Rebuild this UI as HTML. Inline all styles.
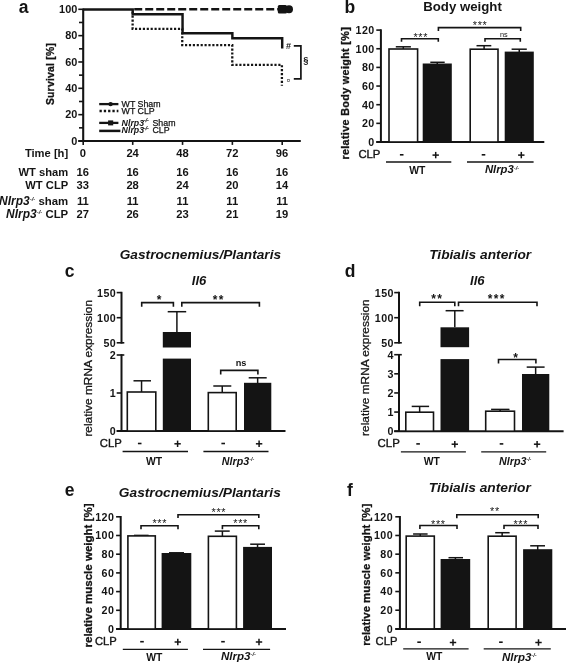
<!DOCTYPE html>
<html lang="en">
<head>
<meta charset="utf-8">
<title>Figure</title>
<style>
html,body{margin:0;padding:0;background:#fff;}
body{width:566px;height:663px;overflow:hidden;font-family:"Liberation Sans",sans-serif;}
svg{display:block;will-change:transform;}
svg text{font-family:"Liberation Sans",sans-serif;fill:#141414;}
</style>
</head>
<body>
<svg width="566" height="663" viewBox="0 0 566 663">
<rect x="0" y="0" width="566" height="663" fill="#ffffff"/>
<text x="23.50" y="12.90" font-size="17.5" font-weight="bold" font-style="normal" text-anchor="middle" >a</text>
<line x1="83.20" y1="8.70" x2="83.20" y2="142.00" stroke="#141414" stroke-width="2.1" />
<line x1="78.30" y1="141.00" x2="300.80" y2="141.00" stroke="#141414" stroke-width="2.1" />
<line x1="78.30" y1="141.00" x2="83.20" y2="141.00" stroke="#141414" stroke-width="1.6" />
<line x1="79.00" y1="127.83" x2="83.20" y2="127.83" stroke="#141414" stroke-width="1.6" />
<line x1="78.30" y1="114.66" x2="83.20" y2="114.66" stroke="#141414" stroke-width="1.6" />
<line x1="79.00" y1="101.49" x2="83.20" y2="101.49" stroke="#141414" stroke-width="1.6" />
<line x1="78.30" y1="88.32" x2="83.20" y2="88.32" stroke="#141414" stroke-width="1.6" />
<line x1="79.00" y1="75.15" x2="83.20" y2="75.15" stroke="#141414" stroke-width="1.6" />
<line x1="78.30" y1="61.98" x2="83.20" y2="61.98" stroke="#141414" stroke-width="1.6" />
<line x1="79.00" y1="48.81" x2="83.20" y2="48.81" stroke="#141414" stroke-width="1.6" />
<line x1="78.30" y1="35.64" x2="83.20" y2="35.64" stroke="#141414" stroke-width="1.6" />
<line x1="79.00" y1="22.47" x2="83.20" y2="22.47" stroke="#141414" stroke-width="1.6" />
<line x1="78.30" y1="9.30" x2="83.20" y2="9.30" stroke="#141414" stroke-width="1.6" />
<text x="77.50" y="144.81" font-size="10.9" font-weight="bold" font-style="normal" text-anchor="end" letter-spacing="0.1">0</text>
<text x="77.50" y="118.47" font-size="10.9" font-weight="bold" font-style="normal" text-anchor="end" letter-spacing="0.1">20</text>
<text x="77.50" y="92.13" font-size="10.9" font-weight="bold" font-style="normal" text-anchor="end" letter-spacing="0.1">40</text>
<text x="77.50" y="65.80" font-size="10.9" font-weight="bold" font-style="normal" text-anchor="end" letter-spacing="0.1">60</text>
<text x="77.50" y="39.45" font-size="10.9" font-weight="bold" font-style="normal" text-anchor="end" letter-spacing="0.1">80</text>
<text x="77.50" y="13.12" font-size="10.9" font-weight="bold" font-style="normal" text-anchor="end" letter-spacing="0.1">100</text>
<line x1="83.20" y1="141.00" x2="83.20" y2="144.90" stroke="#141414" stroke-width="1.6" />
<line x1="132.72" y1="141.00" x2="132.72" y2="144.90" stroke="#141414" stroke-width="1.6" />
<line x1="182.55" y1="141.00" x2="182.55" y2="144.90" stroke="#141414" stroke-width="1.6" />
<line x1="232.37" y1="141.00" x2="232.37" y2="144.90" stroke="#141414" stroke-width="1.6" />
<line x1="282.20" y1="141.00" x2="282.20" y2="144.90" stroke="#141414" stroke-width="1.6" />
<text x="50.90" y="74.10" font-size="10.3" font-weight="bold" text-anchor="middle" transform="rotate(-90 50.90 74.10)" textLength="62.0" lengthAdjust="spacing" dy="2.68" stroke="#141414" stroke-width="0.3">Survival [%]</text>
<path d="M132.62 11.70 V28.8 H182.25 V45.1 H232.27 V64.9 H281.90 V85.8" fill="none" stroke="#141414" stroke-width="2.3" stroke-dasharray="2.15 1.75"/>
<line x1="134.22" y1="9.20" x2="279.00" y2="9.20" stroke="#141414" stroke-width="2.6" stroke-dasharray="8.0 3.0"/>
<rect x="277.8" y="5.1" width="9.2" height="8.3" rx="1.5" fill="#141414"/>
<circle cx="289.0" cy="9.3" r="4.0" fill="#141414"/>
<path d="M82.90 9.40 H132.72 V14.2 H182.55 V33.2 H232.37 V38.2 H282.20 V48.6" fill="none" stroke="#141414" stroke-width="2.45" />
<text x="288.50" y="49.30" font-size="9.0" font-weight="bold" font-style="normal" text-anchor="middle" >#</text>
<text x="288.50" y="82.20" font-size="6" font-weight="normal" font-style="normal" text-anchor="middle" >¤</text>
<path d="M293.8 45.8 H300.9 V78.8 H293.8" fill="none" stroke="#141414" stroke-width="1.7" />
<text x="305.80" y="63.20" font-size="9.3" font-weight="bold" font-style="normal" text-anchor="middle" >§</text>
<line x1="99.20" y1="104.10" x2="118.40" y2="104.10" stroke="#141414" stroke-width="2.3" />
<circle cx="110.6" cy="104.1" r="2.2" fill="#141414"/>
<line x1="99.50" y1="111.00" x2="118.40" y2="111.00" stroke="#141414" stroke-width="2.3" stroke-dasharray="2.3 2.0"/>
<line x1="99.20" y1="122.90" x2="118.40" y2="122.90" stroke="#141414" stroke-width="2.3" />
<rect x="108.1" y="120.4" width="5.1" height="5.0" fill="#141414"/>
<line x1="99.20" y1="130.90" x2="120.40" y2="130.90" stroke="#141414" stroke-width="2.5" />
<text x="121.60" y="107.00" font-size="8.8" font-weight="normal" font-style="normal" text-anchor="start" stroke="#141414" stroke-width="0.25">WT Sham</text>
<text x="121.60" y="114.40" font-size="8.8" font-weight="normal" font-style="normal" text-anchor="start" stroke="#141414" stroke-width="0.25">WT CLP</text>
<text x="121.6" y="125.6" font-size="8.8" text-anchor="start" stroke="#141414" stroke-width="0.25"><tspan font-style="italic" font-weight="bold" stroke="none">Nlrp3</tspan><tspan font-style="italic" font-size="4.8" dy="-3.2">-/-</tspan><tspan dy="3.2" dx="1.4"> Sham</tspan></text>
<text x="121.6" y="133.4" font-size="8.8" text-anchor="start" stroke="#141414" stroke-width="0.25"><tspan font-style="italic" font-weight="bold" stroke="none">Nlrp3</tspan><tspan font-style="italic" font-size="4.8" dy="-3.2">-/-</tspan><tspan dy="3.2" dx="1.4"> CLP</tspan></text>
<text x="68.20" y="157.00" font-size="11.2" font-weight="bold" font-style="normal" text-anchor="end" >Time [h]</text>
<text x="82.80" y="157.00" font-size="11.2" font-weight="bold" font-style="normal" text-anchor="middle" >0</text>
<text x="132.62" y="157.00" font-size="11.2" font-weight="bold" font-style="normal" text-anchor="middle" >24</text>
<text x="182.45" y="157.00" font-size="11.2" font-weight="bold" font-style="normal" text-anchor="middle" >48</text>
<text x="232.27" y="157.00" font-size="11.2" font-weight="bold" font-style="normal" text-anchor="middle" >72</text>
<text x="282.10" y="157.00" font-size="11.2" font-weight="bold" font-style="normal" text-anchor="middle" >96</text>
<text x="68.20" y="175.70" font-size="11.2" font-weight="bold" font-style="normal" text-anchor="end" >WT sham</text>
<text x="82.80" y="175.70" font-size="11.2" font-weight="bold" font-style="normal" text-anchor="middle" >16</text>
<text x="132.62" y="175.70" font-size="11.2" font-weight="bold" font-style="normal" text-anchor="middle" >16</text>
<text x="182.45" y="175.70" font-size="11.2" font-weight="bold" font-style="normal" text-anchor="middle" >16</text>
<text x="232.27" y="175.70" font-size="11.2" font-weight="bold" font-style="normal" text-anchor="middle" >16</text>
<text x="282.10" y="175.70" font-size="11.2" font-weight="bold" font-style="normal" text-anchor="middle" >16</text>
<text x="68.20" y="189.20" font-size="11.2" font-weight="bold" font-style="normal" text-anchor="end" >WT CLP</text>
<text x="82.80" y="189.20" font-size="11.2" font-weight="bold" font-style="normal" text-anchor="middle" >33</text>
<text x="132.62" y="189.20" font-size="11.2" font-weight="bold" font-style="normal" text-anchor="middle" >28</text>
<text x="182.45" y="189.20" font-size="11.2" font-weight="bold" font-style="normal" text-anchor="middle" >24</text>
<text x="232.27" y="189.20" font-size="11.2" font-weight="bold" font-style="normal" text-anchor="middle" >20</text>
<text x="282.10" y="189.20" font-size="11.2" font-weight="bold" font-style="normal" text-anchor="middle" >14</text>
<text x="82.80" y="205.10" font-size="11.2" font-weight="bold" font-style="normal" text-anchor="middle" >11</text>
<text x="132.62" y="205.10" font-size="11.2" font-weight="bold" font-style="normal" text-anchor="middle" >11</text>
<text x="182.45" y="205.10" font-size="11.2" font-weight="bold" font-style="normal" text-anchor="middle" >11</text>
<text x="232.27" y="205.10" font-size="11.2" font-weight="bold" font-style="normal" text-anchor="middle" >11</text>
<text x="282.10" y="205.10" font-size="11.2" font-weight="bold" font-style="normal" text-anchor="middle" >11</text>
<text x="82.80" y="217.80" font-size="11.2" font-weight="bold" font-style="normal" text-anchor="middle" >27</text>
<text x="132.62" y="217.80" font-size="11.2" font-weight="bold" font-style="normal" text-anchor="middle" >26</text>
<text x="182.45" y="217.80" font-size="11.2" font-weight="bold" font-style="normal" text-anchor="middle" >23</text>
<text x="232.27" y="217.80" font-size="11.2" font-weight="bold" font-style="normal" text-anchor="middle" >21</text>
<text x="282.10" y="217.80" font-size="11.2" font-weight="bold" font-style="normal" text-anchor="middle" >19</text>
<text x="68.20" y="205.10" font-size="11.4" font-weight="bold" text-anchor="end"><tspan font-style="italic" font-size="11.97">Nlrp3</tspan><tspan font-style="italic" font-size="5.9" dy="-4.3">-/-</tspan><tspan dy="4.3" font-weight="bold" font-size="11.4"> sham</tspan></text>
<text x="68.20" y="217.80" font-size="11.4" font-weight="bold" text-anchor="end"><tspan font-style="italic" font-size="11.97">Nlrp3</tspan><tspan font-style="italic" font-size="5.9" dy="-4.3">-/-</tspan><tspan dy="4.3" font-weight="bold" font-size="11.4"> CLP</tspan></text>
<text x="349.80" y="13.30" font-size="17.5" font-weight="bold" font-style="normal" text-anchor="middle" >b</text>
<text x="462.50" y="11.00" font-size="13.3" font-weight="bold" font-style="normal" text-anchor="middle" textLength="78.6" lengthAdjust="spacingAndGlyphs" >Body weight</text>
<line x1="380.90" y1="29.30" x2="380.90" y2="142.90" stroke="#141414" stroke-width="2.0" />
<line x1="376.30" y1="142.00" x2="544.30" y2="142.00" stroke="#141414" stroke-width="2.0" />
<line x1="376.30" y1="142.00" x2="380.90" y2="142.00" stroke="#141414" stroke-width="1.6" />
<text x="374.60" y="146.05" font-size="10.7" font-weight="bold" font-style="normal" text-anchor="end" letter-spacing="0.4">0</text>
<line x1="376.30" y1="123.35" x2="380.90" y2="123.35" stroke="#141414" stroke-width="1.6" />
<text x="374.60" y="127.39" font-size="10.7" font-weight="bold" font-style="normal" text-anchor="end" letter-spacing="0.4">20</text>
<line x1="376.30" y1="104.70" x2="380.90" y2="104.70" stroke="#141414" stroke-width="1.6" />
<text x="374.60" y="108.75" font-size="10.7" font-weight="bold" font-style="normal" text-anchor="end" letter-spacing="0.4">40</text>
<line x1="376.30" y1="86.05" x2="380.90" y2="86.05" stroke="#141414" stroke-width="1.6" />
<text x="374.60" y="90.09" font-size="10.7" font-weight="bold" font-style="normal" text-anchor="end" letter-spacing="0.4">60</text>
<line x1="376.30" y1="67.40" x2="380.90" y2="67.40" stroke="#141414" stroke-width="1.6" />
<text x="374.60" y="71.45" font-size="10.7" font-weight="bold" font-style="normal" text-anchor="end" letter-spacing="0.4">80</text>
<line x1="376.30" y1="48.75" x2="380.90" y2="48.75" stroke="#141414" stroke-width="1.6" />
<text x="374.60" y="52.79" font-size="10.7" font-weight="bold" font-style="normal" text-anchor="end" letter-spacing="0.4">100</text>
<line x1="376.30" y1="30.10" x2="380.90" y2="30.10" stroke="#141414" stroke-width="1.6" />
<text x="374.60" y="34.14" font-size="10.7" font-weight="bold" font-style="normal" text-anchor="end" letter-spacing="0.4">120</text>
<text x="346.50" y="93.40" font-size="10.8" font-weight="bold" text-anchor="middle" transform="rotate(-90 346.50 93.40)" textLength="132.4" lengthAdjust="spacing" dy="2.81" stroke="#141414" stroke-width="0.3">relative Body weight [%]</text>
<line x1="403.30" y1="46.80" x2="403.30" y2="49.00" stroke="#141414" stroke-width="1.5" />
<line x1="395.80" y1="46.80" x2="410.90" y2="46.80" stroke="#141414" stroke-width="1.5" />
<rect x="389.00" y="49.00" width="28.60" height="93.00" fill="#fff" stroke="#141414" stroke-width="1.6"/>
<line x1="437.25" y1="62.30" x2="437.25" y2="64.30" stroke="#141414" stroke-width="1.5" />
<line x1="430.30" y1="62.30" x2="444.70" y2="62.30" stroke="#141414" stroke-width="1.5" />
<rect x="423.50" y="64.30" width="27.50" height="77.70" fill="#141414" stroke="#141414" stroke-width="1.6"/>
<line x1="484.10" y1="45.70" x2="484.10" y2="49.20" stroke="#141414" stroke-width="1.5" />
<line x1="476.50" y1="45.70" x2="491.30" y2="45.70" stroke="#141414" stroke-width="1.5" />
<rect x="470.20" y="49.20" width="27.80" height="92.80" fill="#fff" stroke="#141414" stroke-width="1.6"/>
<line x1="519.25" y1="49.20" x2="519.25" y2="52.40" stroke="#141414" stroke-width="1.5" />
<line x1="511.60" y1="49.20" x2="526.80" y2="49.20" stroke="#141414" stroke-width="1.5" />
<rect x="505.50" y="52.40" width="27.50" height="89.60" fill="#141414" stroke="#141414" stroke-width="1.6"/>
<path d="M401.50 41.80 V38.80 H438.30 V41.80" fill="none" stroke="#141414" stroke-width="1.6" stroke-linejoin="miter"/>
<text x="415.50" y="40.72" font-size="10.8" font-weight="normal" font-style="normal" text-anchor="middle" >*</text>
<text x="420.40" y="40.72" font-size="10.8" font-weight="normal" font-style="normal" text-anchor="middle" >*</text>
<text x="425.30" y="40.72" font-size="10.8" font-weight="normal" font-style="normal" text-anchor="middle" >*</text>
<path d="M438.40 30.90 V27.60 H520.70 V30.90" fill="none" stroke="#141414" stroke-width="1.6" stroke-linejoin="miter"/>
<text x="474.90" y="28.82" font-size="10.8" font-weight="normal" font-style="normal" text-anchor="middle" >*</text>
<text x="479.80" y="28.82" font-size="10.8" font-weight="normal" font-style="normal" text-anchor="middle" >*</text>
<text x="484.70" y="28.82" font-size="10.8" font-weight="normal" font-style="normal" text-anchor="middle" >*</text>
<path d="M485.00 41.80 V38.80 H520.30 V41.80" fill="none" stroke="#141414" stroke-width="1.6" stroke-linejoin="miter"/>
<text x="503.90" y="37.30" font-size="7.3" font-weight="normal" font-style="normal" text-anchor="middle" >ns</text>
<text x="380.40" y="158.05" font-size="10.5" font-weight="normal" font-style="normal" text-anchor="end" textLength="22.0" lengthAdjust="spacingAndGlyphs" stroke="#141414" stroke-width="0.35">CLP</text>
<line x1="399.90" y1="154.80" x2="403.50" y2="154.80" stroke="#141414" stroke-width="1.6" />
<line x1="432.50" y1="155.10" x2="438.90" y2="155.10" stroke="#141414" stroke-width="1.5" />
<line x1="435.70" y1="151.90" x2="435.70" y2="158.30" stroke="#141414" stroke-width="1.5" />
<line x1="481.70" y1="154.80" x2="485.30" y2="154.80" stroke="#141414" stroke-width="1.6" />
<line x1="518.10" y1="155.10" x2="524.50" y2="155.10" stroke="#141414" stroke-width="1.5" />
<line x1="521.30" y1="151.90" x2="521.30" y2="158.30" stroke="#141414" stroke-width="1.5" />
<line x1="386.00" y1="162.00" x2="451.30" y2="162.00" stroke="#141414" stroke-width="1.3" />
<line x1="467.00" y1="162.00" x2="533.60" y2="162.00" stroke="#141414" stroke-width="1.3" />
<text x="417.40" y="173.80" font-size="10.4" font-weight="bold" font-style="normal" text-anchor="middle" >WT</text>
<text x="502.00" y="173.40" font-size="10.2" font-weight="bold" text-anchor="middle" textLength="34.2" lengthAdjust="spacingAndGlyphs"><tspan font-style="italic" font-size="10.71">Nlrp3</tspan><tspan font-style="italic" font-size="5.3" dy="-3.9">-/-</tspan><tspan dy="3.9" font-weight="bold" font-size="10.2"></tspan></text>
<text x="69.50" y="277.20" font-size="17.5" font-weight="bold" font-style="normal" text-anchor="middle" >c</text>
<text x="200.40" y="259.00" font-size="13.5" font-weight="bold" font-style="italic" text-anchor="middle" textLength="161.4" lengthAdjust="spacingAndGlyphs" >Gastrocnemius/Plantaris</text>
<text x="199.00" y="284.50" font-size="13" font-weight="bold" font-style="italic" text-anchor="middle" >Il6</text>
<line x1="121.50" y1="291.80" x2="121.50" y2="343.60" stroke="#141414" stroke-width="2.0" />
<line x1="121.50" y1="354.20" x2="121.50" y2="431.90" stroke="#141414" stroke-width="2.0" />
<line x1="116.70" y1="431.00" x2="285.50" y2="431.00" stroke="#141414" stroke-width="2.0" />
<line x1="116.70" y1="342.80" x2="124.30" y2="342.80" stroke="#141414" stroke-width="1.6" />
<text x="116.10" y="346.94" font-size="10.7" font-weight="bold" font-style="normal" text-anchor="end" letter-spacing="0.4">50</text>
<line x1="116.70" y1="317.70" x2="121.50" y2="317.70" stroke="#141414" stroke-width="1.6" />
<text x="116.10" y="321.85" font-size="10.7" font-weight="bold" font-style="normal" text-anchor="end" letter-spacing="0.4">100</text>
<line x1="116.70" y1="292.60" x2="121.50" y2="292.60" stroke="#141414" stroke-width="1.6" />
<text x="116.10" y="296.75" font-size="10.7" font-weight="bold" font-style="normal" text-anchor="end" letter-spacing="0.4">150</text>
<line x1="116.70" y1="431.00" x2="121.50" y2="431.00" stroke="#141414" stroke-width="1.6" />
<text x="116.10" y="435.14" font-size="10.7" font-weight="bold" font-style="normal" text-anchor="end" letter-spacing="0.4">0</text>
<line x1="116.70" y1="393.00" x2="121.50" y2="393.00" stroke="#141414" stroke-width="1.6" />
<text x="116.10" y="397.14" font-size="10.7" font-weight="bold" font-style="normal" text-anchor="end" letter-spacing="0.4">1</text>
<line x1="116.70" y1="355.00" x2="124.30" y2="355.00" stroke="#141414" stroke-width="1.6" />
<text x="116.10" y="359.14" font-size="10.7" font-weight="bold" font-style="normal" text-anchor="end" letter-spacing="0.4">2</text>
<text x="88.70" y="368.30" font-size="10.8" font-weight="normal" text-anchor="middle" transform="rotate(-90 88.70 368.30)" textLength="136.6" lengthAdjust="spacingAndGlyphs" dy="2.81" stroke="#141414" stroke-width="0.28">relative mRNA expression</text>
<line x1="141.55" y1="380.80" x2="141.55" y2="392.00" stroke="#141414" stroke-width="1.5" />
<line x1="133.50" y1="380.80" x2="151.00" y2="380.80" stroke="#141414" stroke-width="1.5" />
<rect x="127.30" y="392.00" width="28.50" height="39.00" fill="#fff" stroke="#141414" stroke-width="1.6"/>
<line x1="176.90" y1="311.70" x2="176.90" y2="332.00" stroke="#141414" stroke-width="1.5" />
<line x1="167.70" y1="311.70" x2="186.20" y2="311.70" stroke="#141414" stroke-width="1.5" />
<rect x="162.80" y="332.00" width="28.20" height="15.50" fill="#141414"/>
<rect x="162.80" y="358.60" width="28.20" height="72.40" fill="#141414"/>
<line x1="222.25" y1="386.00" x2="222.25" y2="392.60" stroke="#141414" stroke-width="1.5" />
<line x1="213.30" y1="386.00" x2="231.30" y2="386.00" stroke="#141414" stroke-width="1.5" />
<rect x="208.30" y="392.60" width="27.90" height="38.40" fill="#fff" stroke="#141414" stroke-width="1.6"/>
<line x1="257.65" y1="377.80" x2="257.65" y2="383.60" stroke="#141414" stroke-width="1.5" />
<line x1="248.70" y1="377.80" x2="266.70" y2="377.80" stroke="#141414" stroke-width="1.5" />
<rect x="244.80" y="383.60" width="25.70" height="47.40" fill="#141414" stroke="#141414" stroke-width="1.6"/>
<path d="M141.70 306.70 V302.60 H173.40 V306.70" fill="none" stroke="#141414" stroke-width="1.6" stroke-linejoin="miter"/>
<text x="159.00" y="303.64" font-size="12" font-weight="bold" font-style="normal" text-anchor="middle" >*</text>
<path d="M181.80 306.70 V302.60 H259.40 V306.70" fill="none" stroke="#141414" stroke-width="1.6" stroke-linejoin="miter"/>
<text x="215.20" y="303.64" font-size="12" font-weight="bold" font-style="normal" text-anchor="middle" >*</text>
<text x="221.20" y="303.64" font-size="12" font-weight="bold" font-style="normal" text-anchor="middle" >*</text>
<path d="M220.70 374.50 V370.40 H257.90 V374.50" fill="none" stroke="#141414" stroke-width="1.6" stroke-linejoin="miter"/>
<text x="241.00" y="366.00" font-size="9.2" font-weight="bold" font-style="normal" text-anchor="middle" >ns</text>
<text x="121.80" y="446.75" font-size="10.5" font-weight="normal" font-style="normal" text-anchor="end" textLength="22.0" lengthAdjust="spacingAndGlyphs" stroke="#141414" stroke-width="0.35">CLP</text>
<line x1="137.90" y1="443.50" x2="141.50" y2="443.50" stroke="#141414" stroke-width="1.6" />
<line x1="174.40" y1="443.80" x2="180.80" y2="443.80" stroke="#141414" stroke-width="1.5" />
<line x1="177.60" y1="440.60" x2="177.60" y2="447.00" stroke="#141414" stroke-width="1.5" />
<line x1="221.40" y1="443.50" x2="225.00" y2="443.50" stroke="#141414" stroke-width="1.6" />
<line x1="255.90" y1="443.80" x2="262.30" y2="443.80" stroke="#141414" stroke-width="1.5" />
<line x1="259.10" y1="440.60" x2="259.10" y2="447.00" stroke="#141414" stroke-width="1.5" />
<line x1="122.60" y1="451.50" x2="188.00" y2="451.50" stroke="#141414" stroke-width="1.3" />
<line x1="203.40" y1="451.50" x2="268.50" y2="451.50" stroke="#141414" stroke-width="1.3" />
<text x="154.00" y="465.10" font-size="10.4" font-weight="bold" font-style="normal" text-anchor="middle" >WT</text>
<text x="238.00" y="465.10" font-size="10.2" font-weight="bold" text-anchor="middle"><tspan font-style="italic" font-size="10.71">Nlrp3</tspan><tspan font-style="italic" font-size="5.3" dy="-3.9">-/-</tspan><tspan dy="3.9" font-weight="bold" font-size="10.2"></tspan></text>
<text x="350.00" y="276.80" font-size="17.5" font-weight="bold" font-style="normal" text-anchor="middle" >d</text>
<text x="480.20" y="258.80" font-size="13.5" font-weight="bold" font-style="italic" text-anchor="middle" textLength="102" lengthAdjust="spacingAndGlyphs" >Tibialis anterior</text>
<text x="477.30" y="284.80" font-size="13" font-weight="bold" font-style="italic" text-anchor="middle" >Il6</text>
<line x1="399.00" y1="291.80" x2="399.00" y2="343.60" stroke="#141414" stroke-width="2.0" />
<line x1="399.00" y1="353.90" x2="399.00" y2="432.10" stroke="#141414" stroke-width="2.0" />
<line x1="394.20" y1="431.20" x2="563.60" y2="431.20" stroke="#141414" stroke-width="2.0" />
<line x1="394.20" y1="342.80" x2="401.80" y2="342.80" stroke="#141414" stroke-width="1.6" />
<text x="393.90" y="346.94" font-size="10.7" font-weight="bold" font-style="normal" text-anchor="end" letter-spacing="0.4">50</text>
<line x1="394.20" y1="317.70" x2="399.00" y2="317.70" stroke="#141414" stroke-width="1.6" />
<text x="393.90" y="321.85" font-size="10.7" font-weight="bold" font-style="normal" text-anchor="end" letter-spacing="0.4">100</text>
<line x1="394.20" y1="292.60" x2="399.00" y2="292.60" stroke="#141414" stroke-width="1.6" />
<text x="393.90" y="296.75" font-size="10.7" font-weight="bold" font-style="normal" text-anchor="end" letter-spacing="0.4">150</text>
<line x1="394.20" y1="431.20" x2="399.00" y2="431.20" stroke="#141414" stroke-width="1.6" />
<text x="393.90" y="435.34" font-size="10.7" font-weight="bold" font-style="normal" text-anchor="end" letter-spacing="0.4">0</text>
<line x1="394.20" y1="412.07" x2="399.00" y2="412.07" stroke="#141414" stroke-width="1.6" />
<text x="393.90" y="416.22" font-size="10.7" font-weight="bold" font-style="normal" text-anchor="end" letter-spacing="0.4">1</text>
<line x1="394.20" y1="392.95" x2="399.00" y2="392.95" stroke="#141414" stroke-width="1.6" />
<text x="393.90" y="397.09" font-size="10.7" font-weight="bold" font-style="normal" text-anchor="end" letter-spacing="0.4">2</text>
<line x1="394.20" y1="373.82" x2="399.00" y2="373.82" stroke="#141414" stroke-width="1.6" />
<text x="393.90" y="377.97" font-size="10.7" font-weight="bold" font-style="normal" text-anchor="end" letter-spacing="0.4">3</text>
<line x1="394.20" y1="354.70" x2="401.80" y2="354.70" stroke="#141414" stroke-width="1.6" />
<text x="393.90" y="358.84" font-size="10.7" font-weight="bold" font-style="normal" text-anchor="end" letter-spacing="0.4">4</text>
<text x="366.60" y="367.60" font-size="10.8" font-weight="normal" text-anchor="middle" transform="rotate(-90 366.60 367.60)" textLength="136.6" lengthAdjust="spacingAndGlyphs" dy="2.81" stroke="#141414" stroke-width="0.28">relative mRNA expression</text>
<line x1="419.65" y1="406.40" x2="419.65" y2="412.20" stroke="#141414" stroke-width="1.5" />
<line x1="411.70" y1="406.40" x2="429.10" y2="406.40" stroke="#141414" stroke-width="1.5" />
<rect x="405.80" y="412.20" width="27.70" height="19.00" fill="#fff" stroke="#141414" stroke-width="1.6"/>
<line x1="454.80" y1="310.70" x2="454.80" y2="327.30" stroke="#141414" stroke-width="1.5" />
<line x1="445.60" y1="310.70" x2="463.60" y2="310.70" stroke="#141414" stroke-width="1.5" />
<rect x="440.50" y="327.30" width="28.60" height="19.90" fill="#141414"/>
<rect x="440.50" y="359.10" width="28.60" height="72.10" fill="#141414"/>
<line x1="500.10" y1="409.40" x2="500.10" y2="411.20" stroke="#141414" stroke-width="1.5" />
<line x1="491.10" y1="409.40" x2="509.50" y2="409.40" stroke="#141414" stroke-width="1.5" />
<rect x="485.70" y="411.20" width="28.80" height="20.00" fill="#fff" stroke="#141414" stroke-width="1.6"/>
<line x1="535.65" y1="367.10" x2="535.65" y2="374.80" stroke="#141414" stroke-width="1.5" />
<line x1="526.70" y1="367.10" x2="544.60" y2="367.10" stroke="#141414" stroke-width="1.5" />
<rect x="522.80" y="374.80" width="25.70" height="56.40" fill="#141414" stroke="#141414" stroke-width="1.6"/>
<path d="M419.70 306.30 V302.20 H454.80 V306.30" fill="none" stroke="#141414" stroke-width="1.6" stroke-linejoin="miter"/>
<text x="433.60" y="303.24" font-size="12" font-weight="bold" font-style="normal" text-anchor="middle" >*</text>
<text x="439.60" y="303.24" font-size="12" font-weight="bold" font-style="normal" text-anchor="middle" >*</text>
<path d="M458.50 306.30 V302.20 H537.00 V306.30" fill="none" stroke="#141414" stroke-width="1.6" stroke-linejoin="miter"/>
<text x="490.00" y="303.24" font-size="12" font-weight="bold" font-style="normal" text-anchor="middle" >*</text>
<text x="496.00" y="303.24" font-size="12" font-weight="bold" font-style="normal" text-anchor="middle" >*</text>
<text x="502.00" y="303.24" font-size="12" font-weight="bold" font-style="normal" text-anchor="middle" >*</text>
<path d="M498.50 363.60 V359.50 H535.90 V363.60" fill="none" stroke="#141414" stroke-width="1.6" stroke-linejoin="miter"/>
<text x="515.70" y="361.84" font-size="12" font-weight="bold" font-style="normal" text-anchor="middle" >*</text>
<text x="399.80" y="447.15" font-size="10.5" font-weight="normal" font-style="normal" text-anchor="end" textLength="22.2" lengthAdjust="spacingAndGlyphs" stroke="#141414" stroke-width="0.35">CLP</text>
<line x1="416.30" y1="443.90" x2="419.90" y2="443.90" stroke="#141414" stroke-width="1.6" />
<line x1="451.60" y1="444.20" x2="458.00" y2="444.20" stroke="#141414" stroke-width="1.5" />
<line x1="454.80" y1="441.00" x2="454.80" y2="447.40" stroke="#141414" stroke-width="1.5" />
<line x1="499.70" y1="443.90" x2="503.30" y2="443.90" stroke="#141414" stroke-width="1.6" />
<line x1="533.90" y1="444.20" x2="540.30" y2="444.20" stroke="#141414" stroke-width="1.5" />
<line x1="537.10" y1="441.00" x2="537.10" y2="447.40" stroke="#141414" stroke-width="1.5" />
<line x1="400.90" y1="451.90" x2="465.90" y2="451.90" stroke="#141414" stroke-width="1.3" />
<line x1="481.20" y1="451.90" x2="546.20" y2="451.90" stroke="#141414" stroke-width="1.3" />
<text x="431.90" y="465.00" font-size="10.4" font-weight="bold" font-style="normal" text-anchor="middle" >WT</text>
<text x="515.20" y="465.00" font-size="10.2" font-weight="bold" text-anchor="middle"><tspan font-style="italic" font-size="10.71">Nlrp3</tspan><tspan font-style="italic" font-size="5.3" dy="-3.9">-/-</tspan><tspan dy="3.9" font-weight="bold" font-size="10.2"></tspan></text>
<text x="69.70" y="496.10" font-size="17.5" font-weight="bold" font-style="normal" text-anchor="middle" >e</text>
<text x="199.80" y="496.60" font-size="13.5" font-weight="bold" font-style="italic" text-anchor="middle" textLength="162" lengthAdjust="spacingAndGlyphs" >Gastrocnemius/Plantaris</text>
<line x1="120.70" y1="516.00" x2="120.70" y2="629.90" stroke="#141414" stroke-width="2.0" />
<line x1="116.10" y1="629.00" x2="286.00" y2="629.00" stroke="#141414" stroke-width="2.0" />
<line x1="116.10" y1="629.00" x2="120.70" y2="629.00" stroke="#141414" stroke-width="1.6" />
<text x="114.30" y="632.75" font-size="10.7" font-weight="bold" font-style="normal" text-anchor="end" letter-spacing="0.4">0</text>
<line x1="116.10" y1="610.30" x2="120.70" y2="610.30" stroke="#141414" stroke-width="1.6" />
<text x="114.30" y="614.04" font-size="10.7" font-weight="bold" font-style="normal" text-anchor="end" letter-spacing="0.4">20</text>
<line x1="116.10" y1="591.60" x2="120.70" y2="591.60" stroke="#141414" stroke-width="1.6" />
<text x="114.30" y="595.35" font-size="10.7" font-weight="bold" font-style="normal" text-anchor="end" letter-spacing="0.4">40</text>
<line x1="116.10" y1="572.90" x2="120.70" y2="572.90" stroke="#141414" stroke-width="1.6" />
<text x="114.30" y="576.64" font-size="10.7" font-weight="bold" font-style="normal" text-anchor="end" letter-spacing="0.4">60</text>
<line x1="116.10" y1="554.20" x2="120.70" y2="554.20" stroke="#141414" stroke-width="1.6" />
<text x="114.30" y="557.94" font-size="10.7" font-weight="bold" font-style="normal" text-anchor="end" letter-spacing="0.4">80</text>
<line x1="116.10" y1="535.50" x2="120.70" y2="535.50" stroke="#141414" stroke-width="1.6" />
<text x="114.30" y="539.25" font-size="10.7" font-weight="bold" font-style="normal" text-anchor="end" letter-spacing="0.4">100</text>
<line x1="116.10" y1="516.80" x2="120.70" y2="516.80" stroke="#141414" stroke-width="1.6" />
<text x="114.30" y="520.54" font-size="10.7" font-weight="bold" font-style="normal" text-anchor="end" letter-spacing="0.4">120</text>
<text x="89.00" y="575.50" font-size="11.2" font-weight="bold" text-anchor="middle" transform="rotate(-90 89.00 575.50)" textLength="144.0" lengthAdjust="spacingAndGlyphs" dy="2.91" stroke="#141414" stroke-width="0.3">relative muscle weight [%]</text>
<line x1="141.60" y1="535.40" x2="141.60" y2="535.90" stroke="#141414" stroke-width="1.5" />
<line x1="134.00" y1="535.40" x2="148.60" y2="535.40" stroke="#141414" stroke-width="1.5" />
<rect x="127.90" y="535.90" width="27.40" height="93.10" fill="#fff" stroke="#141414" stroke-width="1.6"/>
<line x1="176.45" y1="552.80" x2="176.45" y2="553.80" stroke="#141414" stroke-width="1.5" />
<line x1="169.00" y1="552.80" x2="184.00" y2="552.80" stroke="#141414" stroke-width="1.5" />
<rect x="162.40" y="553.80" width="28.10" height="75.20" fill="#141414" stroke="#141414" stroke-width="1.6"/>
<line x1="222.40" y1="531.10" x2="222.40" y2="536.30" stroke="#141414" stroke-width="1.5" />
<line x1="214.80" y1="531.10" x2="229.70" y2="531.10" stroke="#141414" stroke-width="1.5" />
<rect x="208.40" y="536.30" width="28.00" height="92.70" fill="#fff" stroke="#141414" stroke-width="1.6"/>
<line x1="257.55" y1="544.20" x2="257.55" y2="547.70" stroke="#141414" stroke-width="1.5" />
<line x1="250.20" y1="544.20" x2="265.00" y2="544.20" stroke="#141414" stroke-width="1.5" />
<rect x="243.90" y="547.70" width="27.30" height="81.30" fill="#141414" stroke="#141414" stroke-width="1.6"/>
<path d="M141.00 529.20 V525.80 H178.00 V529.20" fill="none" stroke="#141414" stroke-width="1.6" stroke-linejoin="miter"/>
<text x="154.50" y="527.22" font-size="10.8" font-weight="normal" font-style="normal" text-anchor="middle" >*</text>
<text x="159.40" y="527.22" font-size="10.8" font-weight="normal" font-style="normal" text-anchor="middle" >*</text>
<text x="164.30" y="527.22" font-size="10.8" font-weight="normal" font-style="normal" text-anchor="middle" >*</text>
<path d="M178.00 518.10 V514.70 H258.80 V518.10" fill="none" stroke="#141414" stroke-width="1.6" stroke-linejoin="miter"/>
<text x="213.60" y="516.12" font-size="10.8" font-weight="normal" font-style="normal" text-anchor="middle" >*</text>
<text x="218.50" y="516.12" font-size="10.8" font-weight="normal" font-style="normal" text-anchor="middle" >*</text>
<text x="223.40" y="516.12" font-size="10.8" font-weight="normal" font-style="normal" text-anchor="middle" >*</text>
<path d="M222.40 529.20 V525.80 H258.80 V529.20" fill="none" stroke="#141414" stroke-width="1.6" stroke-linejoin="miter"/>
<text x="235.40" y="527.32" font-size="10.8" font-weight="normal" font-style="normal" text-anchor="middle" >*</text>
<text x="240.30" y="527.32" font-size="10.8" font-weight="normal" font-style="normal" text-anchor="middle" >*</text>
<text x="245.20" y="527.32" font-size="10.8" font-weight="normal" font-style="normal" text-anchor="middle" >*</text>
<text x="116.80" y="644.95" font-size="10.5" font-weight="normal" font-style="normal" text-anchor="end" textLength="21.8" lengthAdjust="spacingAndGlyphs" stroke="#141414" stroke-width="0.35">CLP</text>
<line x1="140.20" y1="641.70" x2="143.80" y2="641.70" stroke="#141414" stroke-width="1.6" />
<line x1="174.60" y1="642.00" x2="181.00" y2="642.00" stroke="#141414" stroke-width="1.5" />
<line x1="177.80" y1="638.80" x2="177.80" y2="645.20" stroke="#141414" stroke-width="1.5" />
<line x1="221.20" y1="641.70" x2="224.80" y2="641.70" stroke="#141414" stroke-width="1.6" />
<line x1="255.80" y1="642.00" x2="262.20" y2="642.00" stroke="#141414" stroke-width="1.5" />
<line x1="259.00" y1="638.80" x2="259.00" y2="645.20" stroke="#141414" stroke-width="1.5" />
<line x1="122.80" y1="649.30" x2="187.90" y2="649.30" stroke="#141414" stroke-width="1.3" />
<line x1="203.00" y1="649.30" x2="270.10" y2="649.30" stroke="#141414" stroke-width="1.3" />
<text x="154.40" y="660.90" font-size="10.4" font-weight="bold" font-style="normal" text-anchor="middle" >WT</text>
<text x="238.40" y="660.20" font-size="10.2" font-weight="bold" text-anchor="middle" textLength="35.0" lengthAdjust="spacingAndGlyphs"><tspan font-style="italic" font-size="10.71">Nlrp3</tspan><tspan font-style="italic" font-size="5.3" dy="-3.9">-/-</tspan><tspan dy="3.9" font-weight="bold" font-size="10.2"></tspan></text>
<text x="349.90" y="495.70" font-size="17.5" font-weight="bold" font-style="normal" text-anchor="middle" >f</text>
<text x="479.80" y="491.70" font-size="13.5" font-weight="bold" font-style="italic" text-anchor="middle" textLength="102" lengthAdjust="spacingAndGlyphs" >Tibialis anterior</text>
<line x1="399.90" y1="516.00" x2="399.90" y2="629.80" stroke="#141414" stroke-width="2.0" />
<line x1="395.30" y1="628.90" x2="566.50" y2="628.90" stroke="#141414" stroke-width="2.0" />
<line x1="395.30" y1="628.90" x2="399.90" y2="628.90" stroke="#141414" stroke-width="1.6" />
<text x="393.00" y="632.64" font-size="10.7" font-weight="bold" font-style="normal" text-anchor="end" letter-spacing="0.4">0</text>
<line x1="395.30" y1="610.22" x2="399.90" y2="610.22" stroke="#141414" stroke-width="1.6" />
<text x="393.00" y="613.96" font-size="10.7" font-weight="bold" font-style="normal" text-anchor="end" letter-spacing="0.4">20</text>
<line x1="395.30" y1="591.53" x2="399.90" y2="591.53" stroke="#141414" stroke-width="1.6" />
<text x="393.00" y="595.28" font-size="10.7" font-weight="bold" font-style="normal" text-anchor="end" letter-spacing="0.4">40</text>
<line x1="395.30" y1="572.85" x2="399.90" y2="572.85" stroke="#141414" stroke-width="1.6" />
<text x="393.00" y="576.59" font-size="10.7" font-weight="bold" font-style="normal" text-anchor="end" letter-spacing="0.4">60</text>
<line x1="395.30" y1="554.17" x2="399.90" y2="554.17" stroke="#141414" stroke-width="1.6" />
<text x="393.00" y="557.91" font-size="10.7" font-weight="bold" font-style="normal" text-anchor="end" letter-spacing="0.4">80</text>
<line x1="395.30" y1="535.48" x2="399.90" y2="535.48" stroke="#141414" stroke-width="1.6" />
<text x="393.00" y="539.23" font-size="10.7" font-weight="bold" font-style="normal" text-anchor="end" letter-spacing="0.4">100</text>
<line x1="395.30" y1="516.80" x2="399.90" y2="516.80" stroke="#141414" stroke-width="1.6" />
<text x="393.00" y="520.54" font-size="10.7" font-weight="bold" font-style="normal" text-anchor="end" letter-spacing="0.4">120</text>
<text x="367.10" y="574.80" font-size="11.2" font-weight="bold" text-anchor="middle" transform="rotate(-90 367.10 574.80)" textLength="142.0" lengthAdjust="spacingAndGlyphs" dy="2.91" stroke="#141414" stroke-width="0.3">relative muscle weight [%]</text>
<line x1="420.25" y1="534.00" x2="420.25" y2="536.10" stroke="#141414" stroke-width="1.5" />
<line x1="413.10" y1="534.00" x2="427.60" y2="534.00" stroke="#141414" stroke-width="1.5" />
<rect x="406.20" y="536.10" width="28.10" height="92.80" fill="#fff" stroke="#141414" stroke-width="1.6"/>
<line x1="455.40" y1="557.70" x2="455.40" y2="559.80" stroke="#141414" stroke-width="1.5" />
<line x1="448.50" y1="557.70" x2="463.00" y2="557.70" stroke="#141414" stroke-width="1.5" />
<rect x="441.40" y="559.80" width="28.00" height="69.10" fill="#141414" stroke="#141414" stroke-width="1.6"/>
<line x1="502.15" y1="532.70" x2="502.15" y2="536.20" stroke="#141414" stroke-width="1.5" />
<line x1="495.20" y1="532.70" x2="509.60" y2="532.70" stroke="#141414" stroke-width="1.5" />
<rect x="488.20" y="536.20" width="27.90" height="92.70" fill="#fff" stroke="#141414" stroke-width="1.6"/>
<line x1="537.70" y1="545.80" x2="537.70" y2="550.00" stroke="#141414" stroke-width="1.5" />
<line x1="530.20" y1="545.80" x2="545.00" y2="545.80" stroke="#141414" stroke-width="1.5" />
<rect x="523.90" y="550.00" width="27.60" height="78.90" fill="#141414" stroke="#141414" stroke-width="1.6"/>
<path d="M419.90 528.90 V525.50 H457.00 V528.90" fill="none" stroke="#141414" stroke-width="1.6" stroke-linejoin="miter"/>
<text x="433.10" y="527.82" font-size="10.8" font-weight="normal" font-style="normal" text-anchor="middle" >*</text>
<text x="438.00" y="527.82" font-size="10.8" font-weight="normal" font-style="normal" text-anchor="middle" >*</text>
<text x="442.90" y="527.82" font-size="10.8" font-weight="normal" font-style="normal" text-anchor="middle" >*</text>
<path d="M456.80 518.20 V514.80 H538.20 V518.20" fill="none" stroke="#141414" stroke-width="1.6" stroke-linejoin="miter"/>
<text x="492.15" y="515.22" font-size="10.8" font-weight="normal" font-style="normal" text-anchor="middle" >*</text>
<text x="497.05" y="515.22" font-size="10.8" font-weight="normal" font-style="normal" text-anchor="middle" >*</text>
<path d="M504.00 528.90 V525.50 H538.00 V528.90" fill="none" stroke="#141414" stroke-width="1.6" stroke-linejoin="miter"/>
<text x="515.50" y="527.62" font-size="10.8" font-weight="normal" font-style="normal" text-anchor="middle" >*</text>
<text x="520.40" y="527.62" font-size="10.8" font-weight="normal" font-style="normal" text-anchor="middle" >*</text>
<text x="525.30" y="527.62" font-size="10.8" font-weight="normal" font-style="normal" text-anchor="middle" >*</text>
<text x="397.40" y="645.45" font-size="10.5" font-weight="normal" font-style="normal" text-anchor="end" textLength="21.8" lengthAdjust="spacingAndGlyphs" stroke="#141414" stroke-width="0.35">CLP</text>
<line x1="417.30" y1="642.20" x2="420.90" y2="642.20" stroke="#141414" stroke-width="1.6" />
<line x1="449.80" y1="642.50" x2="456.20" y2="642.50" stroke="#141414" stroke-width="1.5" />
<line x1="453.00" y1="639.30" x2="453.00" y2="645.70" stroke="#141414" stroke-width="1.5" />
<line x1="499.10" y1="642.20" x2="502.70" y2="642.20" stroke="#141414" stroke-width="1.6" />
<line x1="535.30" y1="642.50" x2="541.70" y2="642.50" stroke="#141414" stroke-width="1.5" />
<line x1="538.50" y1="639.30" x2="538.50" y2="645.70" stroke="#141414" stroke-width="1.5" />
<line x1="403.20" y1="648.90" x2="468.60" y2="648.90" stroke="#141414" stroke-width="1.3" />
<line x1="483.70" y1="648.90" x2="550.80" y2="648.90" stroke="#141414" stroke-width="1.3" />
<text x="434.30" y="660.20" font-size="10.4" font-weight="bold" font-style="normal" text-anchor="middle" >WT</text>
<text x="519.30" y="660.50" font-size="10.2" font-weight="bold" text-anchor="middle" textLength="34.6" lengthAdjust="spacingAndGlyphs"><tspan font-style="italic" font-size="10.71">Nlrp3</tspan><tspan font-style="italic" font-size="5.3" dy="-3.9">-/-</tspan><tspan dy="3.9" font-weight="bold" font-size="10.2"></tspan></text>
</svg>
</body>
</html>
